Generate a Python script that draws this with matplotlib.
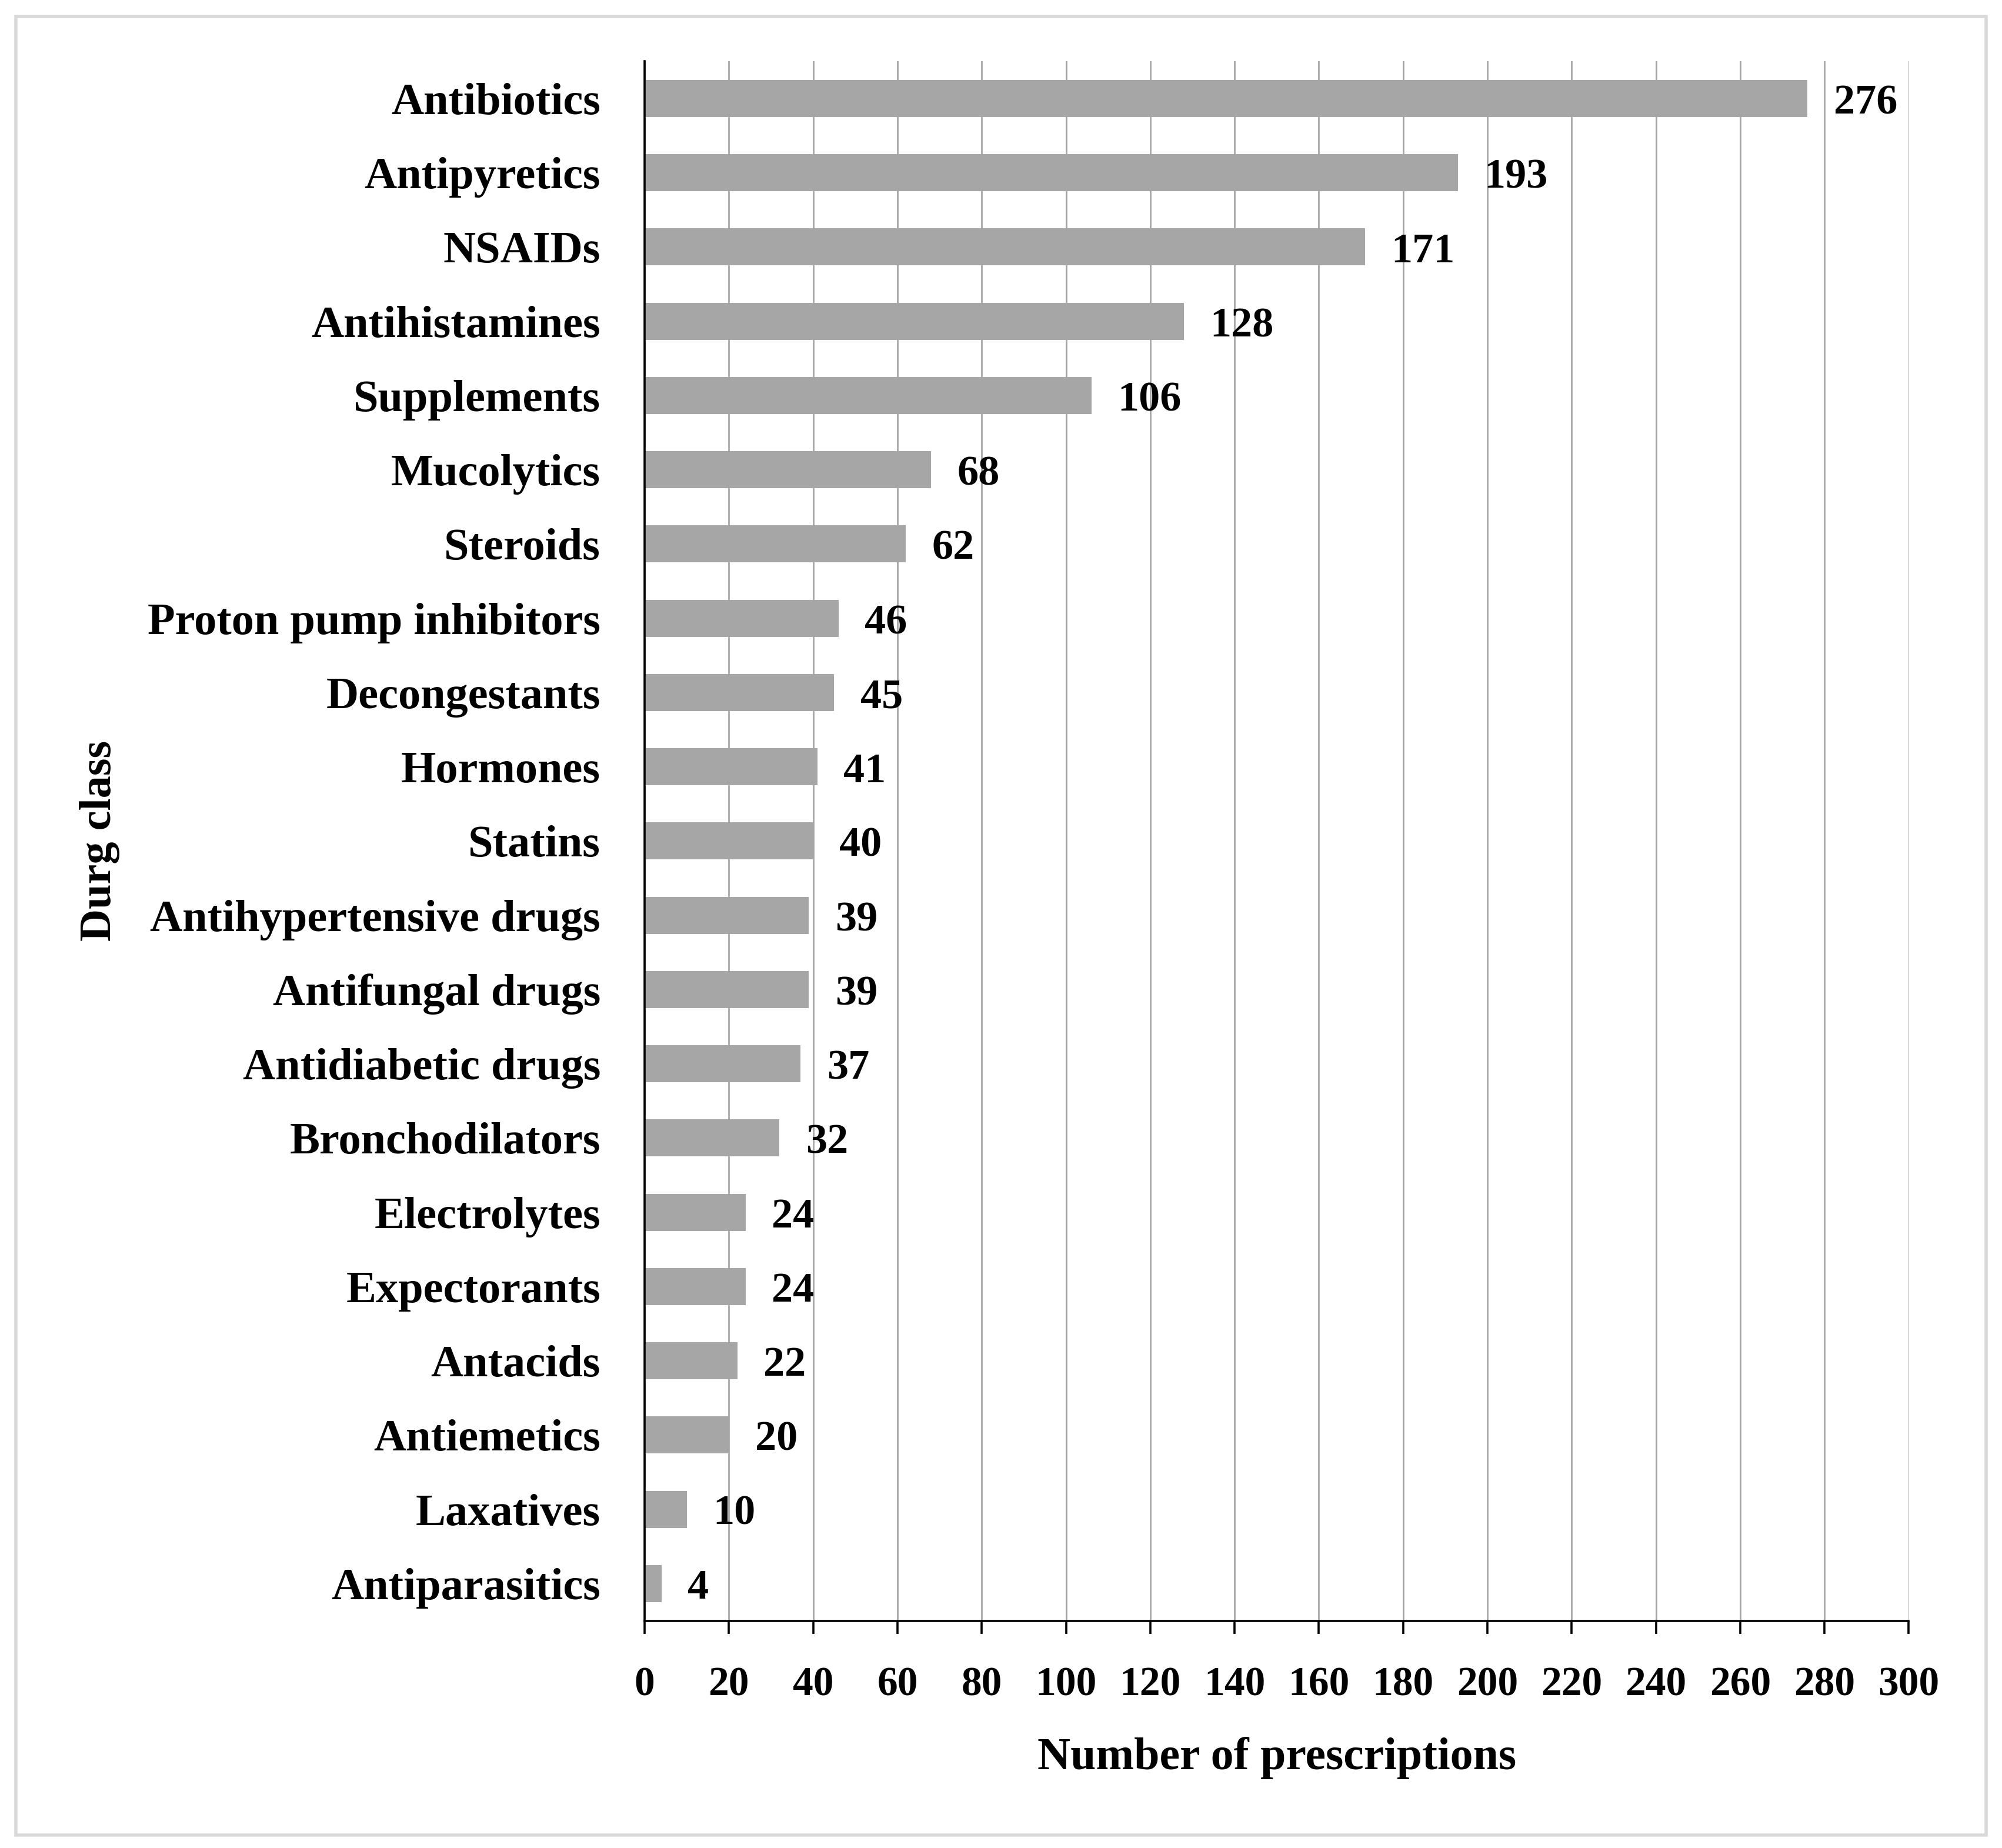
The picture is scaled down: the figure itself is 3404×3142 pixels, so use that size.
import matplotlib
matplotlib.use('Agg')
import matplotlib.pyplot as plt
from matplotlib.patches import Rectangle

# datos
clases = ['Antibiotics', 'Antipyretics', 'NSAIDs', 'Antihistamines', 'Supplements',
          'Mucolytics', 'Steroids', 'Proton pump inhibitors', 'Decongestants', 'Hormones',
          'Statins', 'Antihypertensive drugs', 'Antifungal drugs', 'Antidiabetic drugs',
          'Bronchodilators', 'Electrolytes', 'Expectorants', 'Antacids', 'Antiemetics',
          'Laxatives', 'Antiparasitics']
prescripciones = [276, 193, 171, 128, 106, 68, 62, 46, 45, 41, 40, 39, 39, 37, 32,
                  24, 24, 22, 20, 10, 4]
ticks_x = list(range(0, 301, 20))

plt.rcParams['font.family'] = ['Liberation Serif', 'DejaVu Serif']
plt.rcParams['font.weight'] = 'bold'

fig = plt.figure(figsize=(17.02, 15.71), dpi=200)
ax = fig.add_axes([0.322, 0.123, 0.9534 - 0.322, 0.9668 - 0.123])

posiciones = list(range(len(clases)))
ax.barh(posiciones, prescripciones, height=0.5, color='#a6a6a6', zorder=3)
ax.set_ylim(len(clases) - 0.5, -0.5)
ax.set_xlim(0, 300)

for y, v in zip(posiciones, prescripciones):
    ax.annotate(str(v), xy=(v, y), xytext=(16, -3), textcoords='offset points',
                ha='left', va='center', fontsize=26, fontweight='bold')

ax.set_yticks(posiciones)
ax.set_yticklabels(clases, fontsize=27.5, fontweight='bold')
ax.set_xticks(ticks_x)
ax.set_xticklabels([str(t) for t in ticks_x], fontsize=25, fontweight='bold')
ax.tick_params(axis='y', length=0, pad=27)
ax.tick_params(axis='x', length=8, width=1.3, direction='out', pad=20)

ax.grid(axis='x', color='#a6a6a6', linewidth=1.0, zorder=0)
ax.spines['top'].set_visible(False)
ax.spines['right'].set_visible(False)
ax.spines['left'].set_linewidth(1.3)
ax.spines['bottom'].set_linewidth(1.3)
ax.spines['left'].set_zorder(4)

ax.set_xlabel('Number of prescriptions', fontsize=28, fontweight='bold', labelpad=20)
ax.set_ylabel('Durg class', fontsize=27.5, fontweight='bold')
ax.yaxis.set_label_coords(-0.415, 0.5)

# marco gris alrededor de la figura
fig.patches.append(Rectangle((0.008, 0.007), 0.984, 0.984, transform=fig.transFigure,
                             fill=False, edgecolor='#d9d9d9', linewidth=2.0))

fig.savefig('out.png', dpi=200)
